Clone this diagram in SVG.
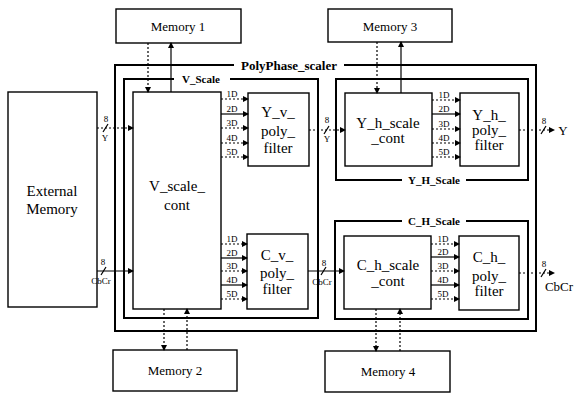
<svg xmlns="http://www.w3.org/2000/svg" width="577" height="394" viewBox="0 0 577 394" font-family="'Liberation Serif', 'DejaVu Serif', 'Times New Roman', serif">
<defs>
<marker id="ah" markerWidth="6" markerHeight="6" refX="5" refY="3" orient="auto" markerUnits="userSpaceOnUse">
<path d="M0,0 L6,3 L0,6 z" fill="#000"/>
</marker>
<style>
.box{fill:#fff;stroke:#000;stroke-width:1.4}
.cont{fill:none;stroke:#000;stroke-width:2}
text{font-family:'Liberation Serif','DejaVu Serif',serif;fill:#000;text-anchor:middle}
.n{font-size:15px}
.m{font-size:13px}
.s{font-size:9px}
.b{font-weight:bold}
.ln{stroke:#000;stroke-width:1.2;fill:none}
.d{stroke-dasharray:2,2}
.a{marker-end:url(#ah)}
</style>
</defs>
<rect width="577" height="394" fill="#fff"/>

<g id="containers">
<g id="polyphase">
<rect class="cont" x="115" y="65" width="421" height="266"/>
<rect x="234" y="58" width="110" height="14" fill="#fff"/>
<text class="b" x="289" y="70" font-size="13">PolyPhase_scaler</text>
</g>
<g id="v_scale">
<rect class="cont" x="124" y="79" width="194" height="239"/>
<rect x="174" y="73" width="56" height="12" fill="#fff"/>
<text class="b" x="201" y="83" font-size="11">V_Scale</text>
</g>
<g id="y_h_scale">
<rect class="cont" x="336" y="79" width="192" height="101"/>
<rect x="402" y="174" width="64" height="12" fill="#fff"/>
<text class="b" x="434" y="184" font-size="11">Y_H_Scale</text>
</g>
<g id="c_h_scale">
<rect class="cont" x="335" y="221" width="193" height="98"/>
<rect x="402" y="215" width="64" height="12" fill="#fff"/>
<text class="b" x="434" y="225" font-size="11">C_H_Scale</text>
</g>
</g>

<g id="memory1"><rect class="box" x="116" y="9" width="125" height="34"/><text class="m" x="178" y="31">Memory 1</text></g>
<g id="memory3"><rect class="box" x="328" y="9" width="124" height="33"/><text class="m" x="390" y="31">Memory 3</text></g>
<g id="memory2"><rect class="box" x="113" y="350" width="124" height="41"/><text class="m" x="175" y="375">Memory 2</text></g>
<g id="memory4"><rect class="box" x="325" y="351" width="125" height="41"/><text class="m" x="388" y="376">Memory 4</text></g>

<g id="external_memory"><rect class="box" x="8" y="92" width="89" height="215"/>
<text class="n" x="52" y="196">External</text><text class="n" x="52" y="214">Memory</text></g>

<g id="v_scale_cont"><rect class="box" x="133" y="92" width="88" height="217"/>
<text class="n" x="177" y="191">V_scale_</text><text class="n" x="177" y="210">cont</text></g>

<g id="y_v_poly_filter"><rect class="box" x="248" y="93" width="61" height="73"/>
<text class="n" x="278" y="117">Y_v_</text><text class="n" x="278" y="136">poly_</text><text class="n" x="278" y="153">filter</text></g>

<g id="c_v_poly_filter"><rect class="box" x="247" y="234" width="61" height="75"/>
<text class="n" x="277" y="260">C_v_</text><text class="n" x="277" y="278">poly_</text><text class="n" x="277" y="294">filter</text></g>

<g id="y_h_scale_cont"><rect class="box" x="345" y="93" width="87" height="73"/>
<text class="n" x="388" y="128">Y_h_scale</text><text class="n" x="388" y="143">_cont</text></g>

<g id="y_h_poly_filter"><rect class="box" x="460" y="93" width="59" height="73"/>
<text class="n" x="489" y="120">Y_h_</text><text class="n" x="489" y="135">poly_</text><text class="n" x="489" y="150">filter</text></g>

<g id="c_h_scale_cont"><rect class="box" x="344" y="236" width="87" height="73"/>
<text class="n" x="388" y="270">C_h_scale</text><text class="n" x="388" y="286">_cont</text></g>

<g id="c_h_poly_filter"><rect class="box" x="459" y="236" width="60" height="74"/>
<text class="n" x="489" y="262">C_h_</text><text class="n" x="489" y="281">poly_</text><text class="n" x="489" y="296">filter</text></g>

<g id="connectors">
<line class="ln d a" x1="148" y1="43" x2="148" y2="92"/>
<line class="ln a" x1="171" y1="92" x2="171" y2="43"/>
<line class="ln d a" x1="377" y1="42" x2="377" y2="93"/>
<line class="ln a" x1="401" y1="93" x2="401" y2="42"/>
<line class="ln d a" x1="164" y1="309" x2="164" y2="350"/>
<line class="ln d a" x1="187" y1="350" x2="187" y2="309"/>
<line class="ln d a" x1="376" y1="309" x2="376" y2="351"/>
<line class="ln d a" x1="400" y1="351" x2="400" y2="309"/>

<line class="ln d a" x1="97" y1="128" x2="133" y2="128"/>
<line class="ln a" x1="97" y1="271" x2="133" y2="271"/>
<line class="ln" x1="103" y1="132" x2="108" y2="124"/>
<line class="ln" x1="101" y1="275" x2="106" y2="267"/>
<text class="s" x="106" y="122">8</text><text class="s" x="105" y="141">Y</text>
<text class="s" x="103" y="265">8</text><text class="s" x="101" y="284">CbCr</text>

<line class="ln d a" x1="221" y1="99" x2="248" y2="99"/>
<line class="ln a" x1="221" y1="114" x2="248" y2="114"/>
<line class="ln d a" x1="221" y1="128" x2="248" y2="128"/>
<line class="ln d a" x1="221" y1="143" x2="248" y2="143"/>
<line class="ln d a" x1="221" y1="157" x2="248" y2="157"/>
<text class="s" x="232" y="97">1D</text><text class="s" x="232" y="112">2D</text><text class="s" x="232" y="126">3D</text><text class="s" x="232" y="141">4D</text><text class="s" x="232" y="155">5D</text>

<line class="ln d a" x1="221" y1="244" x2="247" y2="244"/>
<line class="ln a" x1="221" y1="258" x2="247" y2="258"/>
<line class="ln d a" x1="221" y1="271" x2="247" y2="271"/>
<line class="ln a" x1="221" y1="285" x2="247" y2="285"/>
<line class="ln d a" x1="221" y1="299" x2="247" y2="299"/>
<text class="s" x="232" y="242">1D</text><text class="s" x="232" y="256">2D</text><text class="s" x="232" y="269">3D</text><text class="s" x="232" y="283">4D</text><text class="s" x="232" y="297">5D</text>

<line class="ln d a" x1="309" y1="130" x2="345" y2="130"/>
<line class="ln" x1="324" y1="134" x2="329" y2="126"/>
<text class="s" x="327" y="123">8</text><text class="s" x="327" y="142">Y</text>
<line class="ln a" x1="308" y1="271" x2="344" y2="271"/>
<line class="ln" x1="321" y1="275" x2="326" y2="267"/>
<text class="s" x="324" y="266">8</text><text class="s" x="322" y="285">CbCr</text>

<line class="ln d a" x1="432" y1="100" x2="460" y2="100"/>
<line class="ln a" x1="432" y1="114" x2="460" y2="114"/>
<line class="ln d a" x1="432" y1="129" x2="460" y2="129"/>
<line class="ln d a" x1="432" y1="143" x2="460" y2="143"/>
<line class="ln d a" x1="432" y1="157" x2="460" y2="157"/>
<text class="s" x="444" y="98">1D</text><text class="s" x="444" y="112">2D</text><text class="s" x="444" y="127">3D</text><text class="s" x="444" y="141">4D</text><text class="s" x="444" y="155">5D</text>

<line class="ln d a" x1="431" y1="244" x2="459" y2="244"/>
<line class="ln a" x1="431" y1="257" x2="459" y2="257"/>
<line class="ln d a" x1="431" y1="271" x2="459" y2="271"/>
<line class="ln a" x1="431" y1="285" x2="459" y2="285"/>
<line class="ln d a" x1="431" y1="299" x2="459" y2="299"/>
<text class="s" x="443" y="242">1D</text><text class="s" x="443" y="255">2D</text><text class="s" x="443" y="269">3D</text><text class="s" x="443" y="283">4D</text><text class="s" x="443" y="297">5D</text>

<line class="ln d a" x1="519" y1="130" x2="554" y2="130"/>
<line class="ln" x1="541" y1="134" x2="546" y2="126"/>
<text class="s" x="544" y="124">8</text>
<text class="m" x="563" y="135">Y</text>
<line class="ln d a" x1="519" y1="273" x2="554" y2="273"/>
<line class="ln" x1="541" y1="277" x2="546" y2="269"/>
<text class="s" x="544" y="267">8</text>
<text class="m" x="559" y="291">CbCr</text>
</g>
</svg>
